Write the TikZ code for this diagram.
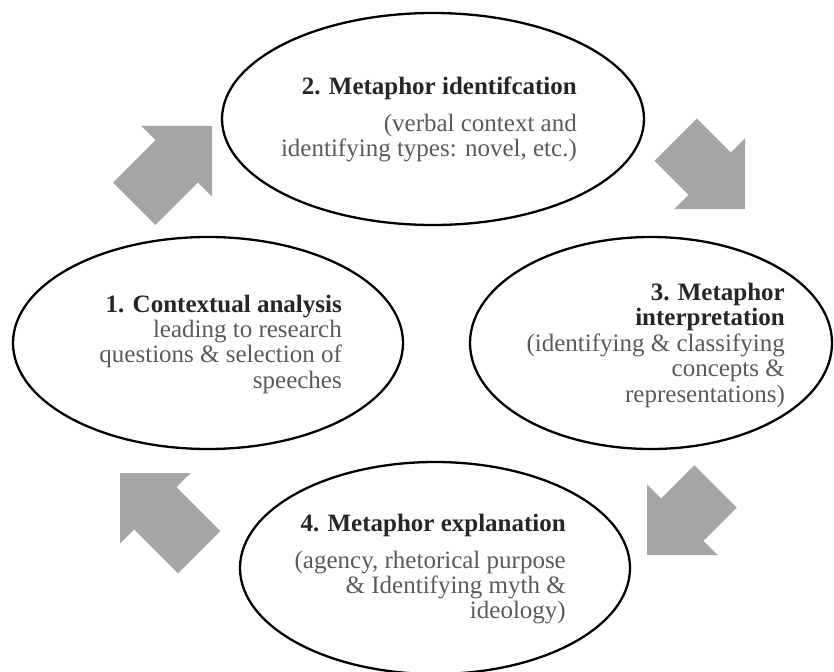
\documentclass[tikz,border=0pt]{standalone}
\usepackage{fontspec}
\setmainfont{Liberation Serif}
\usetikzlibrary{shapes.geometric}
\definecolor{arrowgray}{HTML}{A6A6A6}
\definecolor{titlecol}{HTML}{262626}
\definecolor{desccol}{HTML}{5A5A5A}
\tikzset{
  stage/.style={ellipse, draw=black, line width=2.3pt, inner sep=0pt, minimum width=#1},
  title/.style={anchor=base east, inner sep=0pt, text=titlecol, font=\fontsize{25}{25}\selectfont\bfseries},
  desc/.style={anchor=base east, inner sep=0pt, text=desccol, font=\fontsize{25}{25}\selectfont},
  blockarrow/.style={fill=arrowgray, draw=none}
}
\newcommand{\cyclearrow}[4]{% tip x, tip y, angle, length
  \begin{scope}[shift={(#1,#2)}, rotate=#3]
    \fill[blockarrow] (0,0) -- (-50,50) -- (-50,30) -- (-#4,30) -- (-#4,-30) -- (-50,-30) -- (-50,-50) -- cycle;
  \end{scope}}
\begin{document}
\begin{tikzpicture}[x=1pt, y=-1pt]
\useasboundingbox (0,0) rectangle (834,671);
% ellipses
\node[stage=390pt, minimum height=212pt] (e1) at (208,343) {};
\node[stage=422pt, minimum height=212pt] (e2) at (433,119) {};
\node[stage=362pt, minimum height=212pt] (e3) at (651,343) {};
\node[stage=390pt, minimum height=212pt] (e4) at (435,568) {};
% arrows
\cyclearrow{212}{126}{45}{110}
\cyclearrow{745}{209}{-45}{98}
\cyclearrow{647}{555}{-135}{97}
\cyclearrow{120}{473}{135}{112}
% text 1
\node[title] (t1a) at (342,312) {1. Contextual analysis};
\node[desc]  (t1b) at (342,337.3) {leading to research};
\node[desc]  (t1c) at (342,362.6) {questions \& selection of};
\node[desc]  (t1d) at (342,388) {speeches};
% text 2
\node[title] (t2a) at (577,95) {2. Metaphor identifcation};
\node[desc]  (t2b) at (577,132) {(verbal context and};
\node[desc]  (t2c) at (577,157) {identifying types: novel, etc.)};
% text 3
\node[title] (t3a) at (785,300) {3. Metaphor};
\node[title] (t3b) at (785,325.5) {interpretation};
\node[desc]  (t3c) at (785,351) {(identifying \& classifying};
\node[desc]  (t3d) at (785,376.5) {concepts \&};
\node[desc]  (t3e) at (785,402) {representations)};
% text 4
\node[title] (t4a) at (566,531) {4. Metaphor explanation};
\node[desc]  (t4b) at (566,568) {(agency, rhetorical purpose};
\node[desc]  (t4c) at (566,593) {\& Identifying myth \&};
\node[desc]  (t4d) at (566,618) {ideology)};
\end{tikzpicture}
\end{document}
